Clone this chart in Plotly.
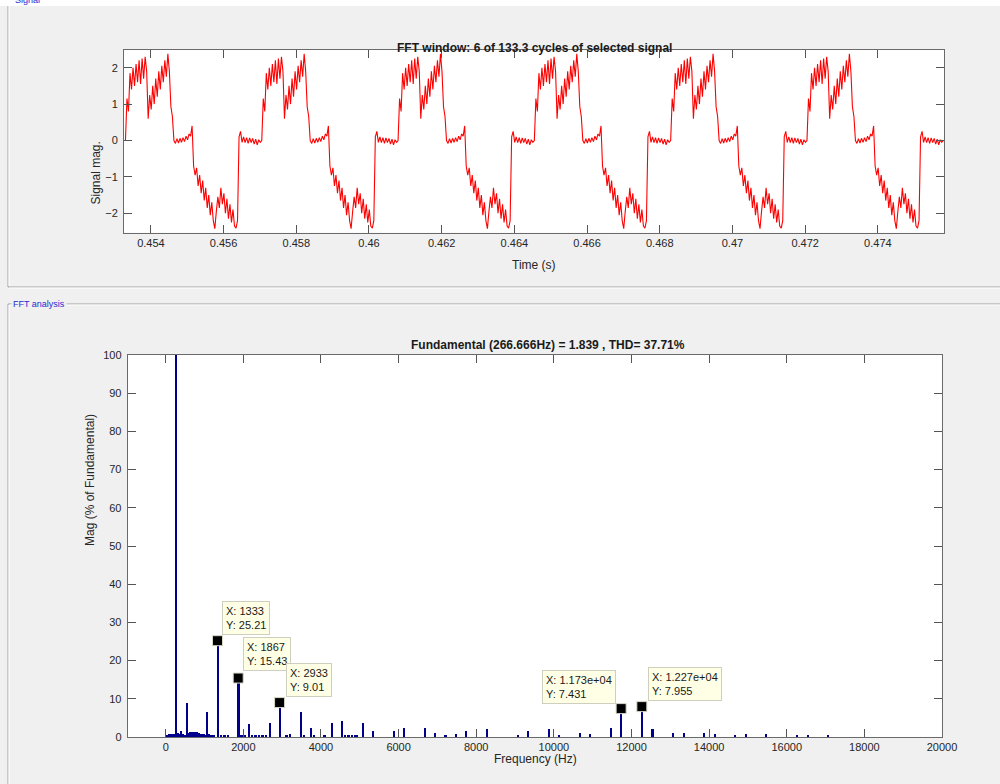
import numpy as np
import plotly.graph_objects as go

W, H = 1000, 784

# ---------------- Signal (time domain) ----------------
t_start = 0.45330            # s, first sample
fundamental_hz = 266.666
samples_per_cycle = 90
n_cycles = 6
# one cycle of the signal (90 samples)
cycle_values = [
    0.0, 1.15, 0.8, 1.85, 1.4, 2.0, 1.5, 2.1, 1.6, 2.2,
    1.55, 2.25, 1.7, 2.3, 1.9, 0.6, 1.25, 0.85, 1.5, 1.0,
    1.7, 1.2, 1.9, 1.4, 2.05, 1.6, 2.2, 1.75, 2.38, 1.9,
    0.93, 0.66, 0.0, -0.08, 0.05, -0.07, 0.06, -0.05, 0.08, -0.03,
    0.12, 0.02, 0.18, 0.12, 0.4, -0.7, -0.95, -0.75, -1.25, -0.95,
    -1.45, -1.1, -1.65, -1.3, -1.85, -1.5, -2.05, -1.7, -2.2, -2.42,
    -1.95, -1.55, -1.85, -1.3, -1.75, -1.45, -2.0, -1.6, -2.15, -1.75,
    -2.25, -1.9, -2.35, -2.41, -2.2, 0.1, 0.25, -0.05, 0.1, -0.06,
    0.08, -0.08, 0.07, -0.06, 0.06, -0.1, 0.04, -0.12, 0.02, -0.05,
]
signal_values = cycle_values * n_cycles + [cycle_values[0]]
signal_time = t_start + np.arange(len(signal_values)) * (1.0 / fundamental_hz) / samples_per_cycle

time_ticks = [0.454, 0.456, 0.458, 0.460, 0.462, 0.464, 0.466, 0.468, 0.470, 0.472, 0.474]
time_tick_labels = ["0.454", "0.456", "0.458", "0.46", "0.462", "0.464",
                    "0.466", "0.468", "0.47", "0.472", "0.474"]
signal_ticks = [-2, -1, 0, 1, 2]

# ---------------- Spectrum ----------------
harmonic_orders = [1, 2, 4, 5, 7, 8, 10, 11, 12, 13, 14, 16, 17, 18, 19, 20, 22, 23,
                   25, 26, 27, 28, 29, 31, 34, 35, 37, 38, 40, 41, 43, 44, 46, 47,
                   49, 50, 52, 53, 55, 56, 58, 61, 62, 64]
harmonic_mags = [100, 9.0, 6.5, 25.21, 15.43, 3.5, 3.7, 9.01, 0.7, 6.5, 2.3, 3.7, 4.2, 0.3, 3.6,
                 1.7, 1.6, 2.4, 2.3, 1.1, 0.3, 0.7, 1.6, 2.0, 0.5, 1.7, 2.0, 0.3, 1.1, 0.7,
                 2.3, 7.431, 7.955, 2.0, 1.0, 1.1, 1.1, 0.9, 0.5, 0.7, 0.7, 0.3, 0.3, 0.3]
# low-level interharmonic content (Hz, % of fundamental)
floor_freqs = [44, 89, 133, 178, 222, 311, 356, 400, 444, 489, 578, 622, 667, 711, 756,
               800, 844, 889, 933, 978, 1022, 1111, 1156, 1200, 1244, 1422, 1511, 1600,
               1911, 1956, 2044, 2222, 2311, 2400, 2489, 2578, 3111, 3556, 3822, 4089,
               4622, 4711, 4889, 4933]
floor_mags = [0.6, 0.7, 0.8, 0.9, 0.9, 1.0, 0.9, 1.5, 0.8, 0.6, 1.0, 1.2, 1.3, 1.4, 1.3,
              1.2, 1.1, 0.9, 0.9, 0.7, 0.6, 0.8, 0.6, 0.4, 0.3, 0.3, 0.4, 0.3,
              0.4, 0.5, 0.3, 0.3, 0.4, 0.3, 0.3, 0.4, 0.3, 0.3, 0.3, 0.3,
              0.3, 0.3, 0.3, 0.3]
tip_orders = [5, 7, 11, 44, 46]

freq_ticks = list(range(0, 20001, 2000))
freq_tick_labels = [str(v) for v in freq_ticks]
mag_ticks = list(range(0, 101, 10))

harm_freqs = [h * fundamental_hz for h in harmonic_orders]
tip_freqs = [h * fundamental_hz for h in tip_orders]
tip_mags = [harmonic_mags[harmonic_orders.index(h)] for h in tip_orders]

FONT = "Liberation Sans, Arial, Helvetica, sans-serif"
TXT = "#262626"
BAR = "#00008C"


def fx(px):
    return px / W


def fy(py):
    return 1 - py / H


fig = go.Figure()

fig.add_trace(go.Scatter(x=signal_time, y=signal_values, mode="lines",
                         line=dict(color="#FF0000", width=1.1),
                         xaxis="x", yaxis="y", hoverinfo="skip", showlegend=False))

fig.add_trace(go.Bar(x=floor_freqs, y=floor_mags, width=46,
                     marker=dict(color=BAR, line=dict(width=0)),
                     xaxis="x2", yaxis="y2", showlegend=False))
fig.add_trace(go.Bar(x=harm_freqs, y=harmonic_mags, width=52,
                     marker=dict(color=BAR, line=dict(width=0)),
                     xaxis="x2", yaxis="y2", showlegend=False))
fig.add_trace(go.Scatter(x=tip_freqs, y=tip_mags, mode="markers",
                         marker=dict(symbol="square", size=10, color="black",
                                     line=dict(color="#d8d8c8", width=1)),
                         xaxis="x2", yaxis="y2", showlegend=False))

axis_common = dict(showline=True, linecolor="#6a6a6a", linewidth=1, mirror="ticks",
                   ticks="inside", ticklen=8, tickcolor="#555555", tickwidth=1,
                   showgrid=False, zeroline=False, automargin=False,
                   tickfont=dict(family=FONT, size=11, color=TXT))

annotations = []
# datatips
tip_shift = [(5, 6, "left"), (5, 7, "left"), (6, 6, "left"), (-5, 5, "right"), (6, 6, "left")]
for f, m, (sx, sy, anc) in zip(tip_freqs, tip_mags, tip_shift):
    annotations.append(dict(
        x=f, y=m, xref="x2", yref="y2", showarrow=False,
        text="X: {}<br>Y: {}".format(format(f, ".4g"), format(m, ".4g")),
        xanchor=anc, yanchor="bottom", xshift=sx, yshift=sy, align="left",
        font=dict(family=FONT, size=11, color="#1a1a1a"),
        bgcolor="#FFFFE6", bordercolor="#cfcfbf", borderwidth=1, borderpad=3))

# titles and axis labels
annotations += [
    dict(x=fx(534), y=fy(39), xref="paper", yref="paper", showarrow=False,
         text="<b>FFT window: 6 of 133.3 cycles of selected signal</b>",
         font=dict(family=FONT, size=12, color="#1a1a1a")),
    dict(x=fx(548), y=fy(345), xref="paper", yref="paper", showarrow=False,
         text="<b>Fundamental (266.666Hz) = 1.839 , THD= 37.71%</b>",
         font=dict(family=FONT, size=12, color="#1a1a1a")),
    dict(x=fx(534), y=fy(265), xref="paper", yref="paper", showarrow=False,
         text="Time (s)", font=dict(family=FONT, size=12, color=TXT)),
    dict(x=fx(535), y=fy(768), xref="paper", yref="paper", showarrow=False,
         text="Frequency (Hz)", font=dict(family=FONT, size=12, color=TXT)),
    dict(x=fx(95), y=fy(140), xref="paper", yref="paper", showarrow=False, xanchor="center",
         text="Signal mag.", textangle=-90, font=dict(family=FONT, size=12, color=TXT)),
    dict(x=fx(90), y=fy(548), xref="paper", yref="paper", showarrow=False, xanchor="center",
         text="Mag (% of Fundamental)", textangle=-90, font=dict(family=FONT, size=12, color=TXT)),
    dict(x=fx(13), y=1, xref="paper", yref="paper", showarrow=False, xanchor="left",
         yanchor="middle", text="Signal", font=dict(family=FONT, size=9, color="#2a2ad0")),
    dict(x=fx(11), y=fy(304), xref="paper", yref="paper", showarrow=False, xanchor="left",
         text="FFT analysis", bgcolor="#F0F0F0",
         font=dict(family="Liberation Sans Narrow, Arial Narrow, " + FONT, size=9, color="#2a2ad0")),
]

shapes = [
    dict(type="rect", xref="paper", yref="paper", x0=0, x1=1, y0=fy(6), y1=1,
         fillcolor="white", line=dict(width=0), layer="below"),
    dict(type="line", xref="paper", yref="paper", x0=fx(8), x1=fx(8), y0=fy(6), y1=fy(287),
         line=dict(color="#a0a0a0", width=1)),
    dict(type="line", xref="paper", yref="paper", x0=fx(9), x1=fx(9), y0=fy(6), y1=fy(286),
         line=dict(color="#ffffff", width=1)),
    dict(type="line", xref="paper", yref="paper", x0=fx(8), x1=1, y0=fy(287), y1=fy(287),
         line=dict(color="#a0a0a0", width=1)),
    dict(type="line", xref="paper", yref="paper", x0=fx(9), x1=1, y0=fy(288), y1=fy(288),
         line=dict(color="#ffffff", width=1)),
    dict(type="line", xref="paper", yref="paper", x0=fx(8), x1=1, y0=fy(304), y1=fy(304),
         line=dict(color="#a0a0a0", width=1)),
    dict(type="line", xref="paper", yref="paper", x0=fx(9), x1=1, y0=fy(305), y1=fy(305),
         line=dict(color="#ffffff", width=1)),
    dict(type="line", xref="paper", yref="paper", x0=fx(8), x1=fx(8), y0=fy(304), y1=0,
         line=dict(color="#a0a0a0", width=1)),
    dict(type="line", xref="paper", yref="paper", x0=fx(9), x1=fx(9), y0=fy(305), y1=0,
         line=dict(color="#ffffff", width=1)),
]

fig.update_layout(
    width=W, height=H, autosize=False,
    margin=dict(l=0, r=0, t=0, b=0, pad=0, autoexpand=False),
    paper_bgcolor="#F0F0F0", plot_bgcolor="white",
    barmode="overlay", bargap=0,
    showlegend=False,
    font=dict(family=FONT, size=11, color=TXT),
    xaxis=dict(domain=[fx(124), fx(944)], range=[0.45326, 0.47582],
               tickvals=time_ticks, ticktext=time_tick_labels, anchor="y", **axis_common),
    yaxis=dict(domain=[fy(232.7), fy(50)], range=[-2.533, 2.486],
               tickvals=signal_ticks, anchor="x", ticklabelstandoff=3, **axis_common),
    xaxis2=dict(domain=[fx(127.7), fx(942)], range=[-980, 20000],
                tickvals=freq_ticks, ticktext=freq_tick_labels, anchor="y2", **axis_common),
    yaxis2=dict(domain=[fy(737), fy(355)], range=[0, 100],
                tickvals=mag_ticks, anchor="x2", ticklabelstandoff=3, **axis_common),
    annotations=annotations,
    shapes=shapes,
)

fig.write_html(
    "out.html",
    config={"displayModeBar": False},
    post_script="document.body.style.margin='0';",
)
